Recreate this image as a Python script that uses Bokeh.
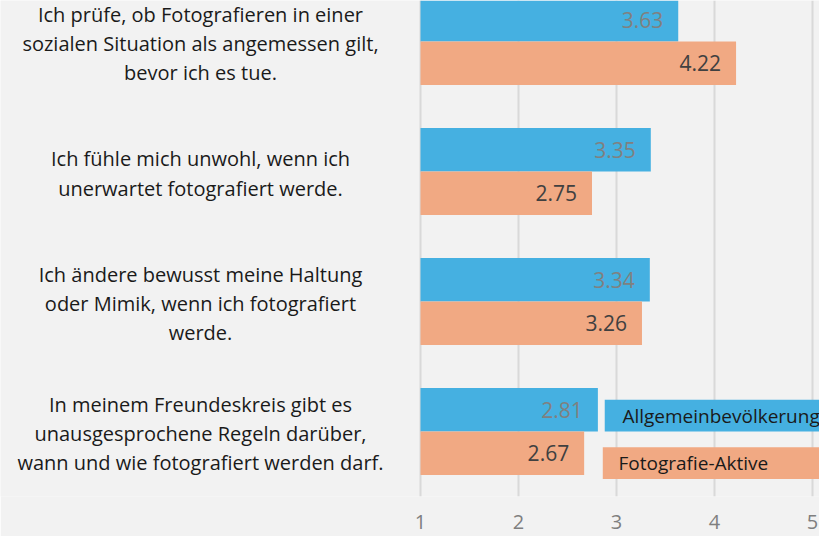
from bokeh.plotting import figure
from bokeh.models import Range1d, FixedTicker, ColumnDataSource
from bokeh.core.properties import value
from bokeh.embed import file_html
from bokeh.resources import INLINE

categories = [
    "Ich prüfe, ob Fotografieren in einer\nsozialen Situation als angemessen gilt,\nbevor ich es tue.",
    "Ich fühle mich unwohl, wenn ich\nunerwartet fotografiert werde.",
    "Ich ändere bewusst meine Haltung\noder Mimik, wenn ich fotografiert\nwerde.",
    "In meinem Freundeskreis gibt es\nunausgesprochene Regeln darüber,\nwann und wie fotografiert werden darf.",
]
series_names = ["Allgemeinbevölkerung", "Fotografie-Aktive"]
allgemein = [3.63, 3.35, 3.34, 2.81]
fotografie = [4.22, 2.75, 3.26, 2.67]
x_ticks = [1, 2, 3, 4, 5]

BLUE = "#45B0E1"
ORANGE = "#F1A983"
BG = "#F2F2F2"
FONT = "Open Sans"

W, H = 819, 536
px_per_unit_x = 98.0
x_origin_px = 420.0
x_start = x_ticks[0] - x_origin_px / px_per_unit_x
x_end = x_ticks[0] + (W - x_origin_px) / px_per_unit_x

px_per_cat = 130.0
first_center_px = 41.0
frame_h = 496.0
y_top = -first_center_px / px_per_cat
y_bottom = (frame_h - first_center_px) / px_per_cat

p = figure(width=W, height=H, x_range=Range1d(x_start, x_end),
           y_range=Range1d(y_bottom, y_top),
           output_backend="svg", toolbar_location=None,
           y_axis_location=None,
           min_border_left=0, min_border_right=0, min_border_top=0,
           min_border_bottom=int(H - frame_h))
p.background_fill_color = BG
p.border_fill_color = BG
p.outline_line_color = None

p.xaxis.ticker = FixedTicker(ticks=x_ticks)
p.xaxis.axis_line_color = None
p.xaxis.major_tick_line_color = None
p.xaxis.minor_tick_line_color = None
p.xaxis.major_label_text_color = "#7F7F7F"
p.xaxis.major_label_text_font = FONT
p.xaxis.major_label_text_font_size = "20px"
p.xaxis.major_label_standoff = 12
p.xgrid.grid_line_color = "#D9D9D9"
p.xgrid.grid_line_width = 2
p.ygrid.visible = False

n = len(categories)
idx = list(range(n))
bar_h = 0.335
off = bar_h / 2
base = x_ticks[0]

src = ColumnDataSource(dict(
    y_a=[i - off for i in idx], y_f=[i + off for i in idx],
    a=allgemein, f=fotografie,
    a_lbl=[f"{v:.2f}" for v in allgemein],
    f_lbl=[f"{v:.2f}" for v in fotografie],
))

p.hbar(y="y_a", left=base, right="a", height=bar_h, source=src,
       fill_color=BLUE, line_color=None)
p.hbar(y="y_f", left=base, right="f", height=bar_h, source=src,
       fill_color=ORANGE, line_color=None)

p.text(x="a", y="y_a", text="a_lbl", source=src, x_offset=-15,
       text_align="right", text_baseline="middle", text_color="#808080",
       text_font=value(FONT), text_font_size="21px")
p.text(x="f", y="y_f", text="f_lbl", source=src, x_offset=-15,
       text_align="right", text_baseline="middle", text_color="#404040",
       text_font=value(FONT), text_font_size="21px")

# category labels (left side)
label_x = x_start + 200 / px_per_unit_x
p.text(x=[label_x] * n, y=idx, text=categories, y_offset=2,
       text_align="center", text_baseline="middle", text_color="#1A1A1A",
       text_font=value(FONT), text_font_size="20px", text_line_height=1.08)

# legend boxes in the lower right
last = n - 1
leg_left = [2.88, 2.86]
leg_top = [last - 0.245, last + 0.122]
leg_bot = [last, last + 0.365]
p.quad(left=leg_left, right=[x_end + 1] * 2, top=leg_top, bottom=leg_bot,
       fill_color=[BLUE, ORANGE], line_color=None)
p.text(x=[3.06, 3.02], y=[(t + b) / 2 for t, b in zip(leg_top, leg_bot)],
       text=series_names, text_align="left", text_baseline="middle",
       text_color="#1A1A1A", text_font=value(FONT), text_font_size="19px")

open("out.html", "w").write(file_html(p, INLINE))
